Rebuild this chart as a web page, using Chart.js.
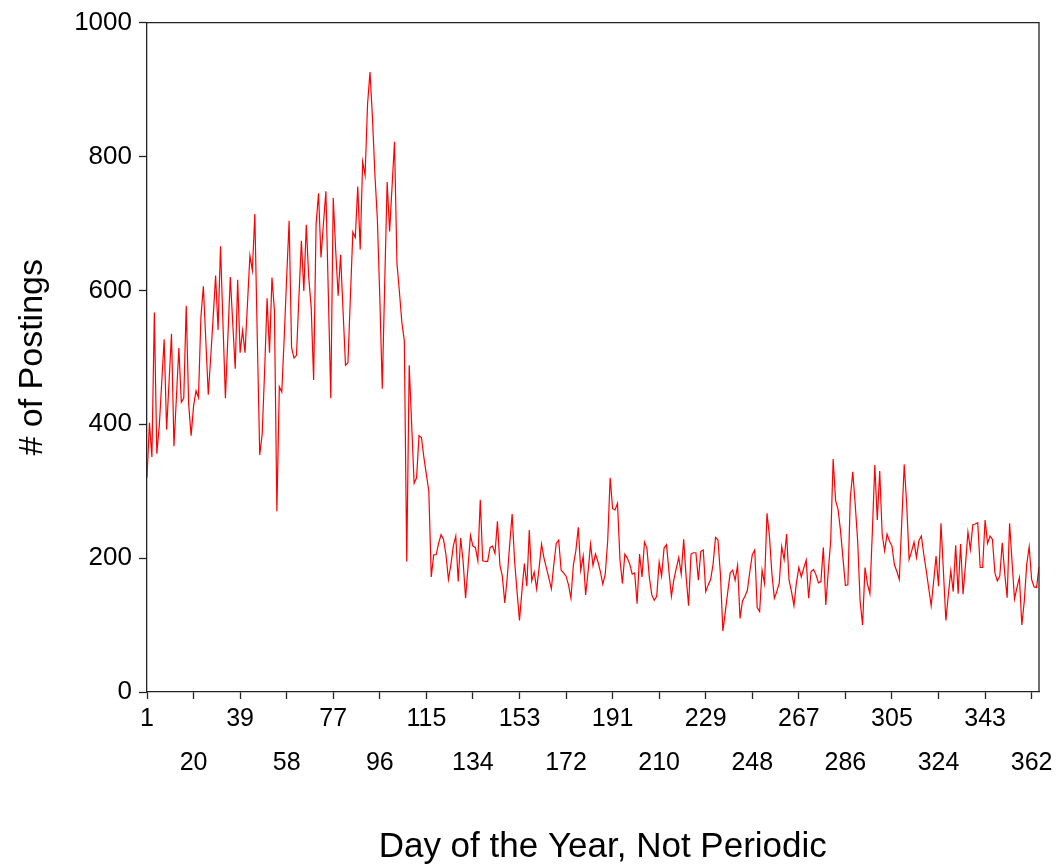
<!DOCTYPE html>
<html>
<head>
<meta charset="utf-8">
<script src="https://cdn.jsdelivr.net/npm/chart.js@4.4.1/dist/chart.umd.min.js"></script>
<style>
  html, body { margin: 0; padding: 0; background: #fff; }
  #wrap { width: 1062px; height: 865px; position: relative; }
</style>
</head>
<body>
<div id="wrap"><canvas id="c" width="1062" height="865"></canvas></div>
<script>
// Daily number of postings, day 1 .. day 365
const postings = [
  320, 402, 351, 567, 356, 397, 462, 527, 392, 463,
  535, 367, 440, 514, 433, 439, 577, 430, 383, 427,
  450, 440, 560, 606, 525, 444, 500, 560, 622, 541,
  666, 550, 439, 530, 620, 550, 483, 616, 507, 540,
  507, 580, 652, 630, 714, 530, 354, 385, 480, 588,
  507, 619, 570, 270, 456, 448, 530, 620, 704, 514,
  499, 503, 590, 674, 599, 698, 619, 575, 466, 699,
  745, 649, 700, 748, 594, 439, 738, 660, 592, 653,
  570, 488, 492, 590, 687, 679, 755, 661, 792, 772,
  878, 926, 858, 773, 707, 590, 453, 610, 762, 688,
  755, 822, 640, 598, 552, 525, 195, 488, 400, 312,
  320, 383, 380, 350, 325, 300, 172, 205, 205, 222,
  235, 228, 205, 168, 190, 218, 233, 165, 230, 195,
  140, 187, 234, 218, 216, 196, 287, 196, 195, 195,
  216, 218, 207, 255, 190, 173, 133, 171, 220, 266,
  196, 150, 107, 151, 192, 158, 242, 166, 179, 154,
  185, 221, 200, 185, 170, 154, 190, 222, 227, 182,
  178, 173, 160, 140, 190, 211, 246, 182, 203, 145,
  180, 221, 189, 206, 195, 180, 161, 176, 226, 320,
  274, 272, 282, 198, 162, 206, 200, 191, 176, 178,
  132, 206, 172, 224, 215, 171, 145, 137, 143, 194,
  173, 215, 220, 180, 143, 168, 185, 201, 176, 228,
  172, 129, 206, 208, 208, 167, 210, 212, 150, 160,
  168, 191, 231, 227, 176, 91, 120, 150, 178, 182,
  167, 189, 110, 136, 143, 152, 180, 205, 212, 126,
  120, 182, 162, 267, 233, 177, 140, 150, 163, 217,
  198, 236, 167, 150, 129, 163, 186, 172, 185, 197,
  140, 180, 183, 175, 163, 165, 216, 130, 180, 226,
  348, 286, 273, 241, 200, 159, 160, 290, 329, 280,
  226, 136, 100, 186, 161, 147, 240, 339, 257, 330,
  236, 211, 236, 225, 218, 190, 180, 168, 255, 340,
  281, 198, 210, 224, 201, 226, 233, 205, 181, 155,
  129, 165, 203, 158, 252, 180, 107, 145, 181, 150,
  219, 147, 221, 146, 190, 239, 213, 250, 251, 253,
  186, 186, 257, 222, 233, 228, 178, 166, 173, 223,
  178, 141, 252, 195, 139, 156, 171, 100, 136, 191,
  217, 168, 157, 156, 187
];
// Day-of-year index for each value (categories)
const days = postings.map((_, i) => i + 1);
// X tick positions / labels
const xTickDays = [1, 20, 39, 58, 77, 96, 115, 134, 153, 172, 191, 210, 229, 248, 267, 286, 305, 324, 343, 362];
// Y ticks
const yTicks = [0, 200, 400, 600, 800, 1000];

const FONT = "'Liberation Sans', Arial, Helvetica, sans-serif";

const framePlugin = {
  id: 'frame',
  afterDraw(chart) {
    const { ctx, chartArea: a } = chart;
    ctx.save();
    ctx.strokeStyle = '#222';
    ctx.lineWidth = 1.3;
    ctx.beginPath();
    ctx.moveTo(a.left, a.top);
    ctx.lineTo(a.right, a.top);
    ctx.lineTo(a.right, a.bottom);
    ctx.stroke();
    ctx.restore();
  }
};

new Chart(document.getElementById('c'), {
  type: 'line',
  data: {
    datasets: [{
      data: days.map((d, i) => ({ x: d, y: postings[i] })),
      borderColor: '#ff0000',
      borderWidth: 1.2,
      pointRadius: 0,
      tension: 0,
      fill: false
    }]
  },
  options: {
    responsive: false,
    animation: false,
    devicePixelRatio: 1,
    layout: { padding: { left: 0, top: 22, right: 23, bottom: 0 } },
    plugins: { legend: { display: false }, tooltip: { enabled: false } },
    scales: {
      x: {
        type: 'linear',
        min: 1,
        max: 365,
        afterBuildTicks: ax => { ax.ticks = xTickDays.map(v => ({ value: v })); },
        afterFit: s => { s.height = 173; },
        ticks: {
          autoSkip: false,
          maxRotation: 0,
          minRotation: 0,
          padding: -2,
          color: '#000',
          font: { family: FONT, size: 25, lineHeight: 1.76 },
          callback: (v, i) => (i % 2 === 0 ? String(v) : ['', String(v)])
        },
        grid: { display: true, drawOnChartArea: false, drawTicks: true, tickLength: 7, tickColor: '#222', tickWidth: 1.3 },
        border: { display: true, color: '#222', width: 1.3 },
        title: {
          display: true,
          text: '  Day of the Year, Not Periodic',
          color: '#000',
          font: { family: FONT, size: 35, lineHeight: 1 },
          padding: { top: 0, bottom: 0 }
        }
      },
      y: {
        type: 'linear',
        min: 0,
        max: 1000,
        afterBuildTicks: ax => { ax.ticks = yTicks.map(v => ({ value: v })); },
        afterFit: s => { s.width = 147; },
        ticks: {
          padding: 7,
          color: '#000',
          font: { family: FONT, size: 26 },
          callback: v => String(v)
        },
        grid: { display: true, drawOnChartArea: false, drawTicks: true, tickLength: 8, tickColor: '#222', tickWidth: 1.3 },
        border: { display: true, color: '#222', width: 1.3 },
        title: {
          display: true,
          text: '# of Postings',
          color: '#000',
          font: { family: FONT, size: 34, lineHeight: 1 },
          padding: { top: 16, bottom: 0 }
        }
      }
    }
  },
  plugins: [framePlugin]
});
</script>
</body>
</html>
